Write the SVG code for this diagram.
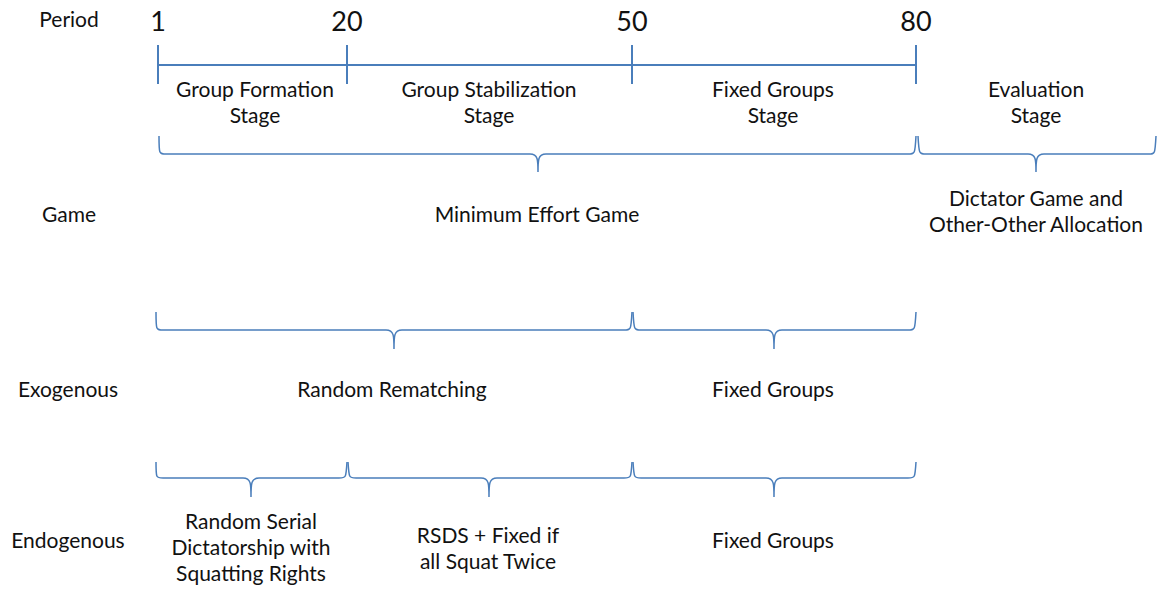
<svg xmlns="http://www.w3.org/2000/svg" width="1157" height="590" viewBox="0 0 1157 590">
<style>
text{font-family:Lato,"Open Sans","Liberation Sans",sans-serif;fill:#111;text-anchor:middle}
.t{font-size:21px}
.n{font-size:27px}
.ax{stroke:#4A7EBB;stroke-width:2;fill:none}
.br{stroke:#4A7EBB;stroke-width:1.5;fill:none}
</style>
<rect width="1157" height="590" fill="#fff"/>
<g id="row-labels">
<text class="t" x="69" y="27">Period</text>
<text class="t" x="69" y="222">Game</text>
<text class="t" x="68" y="397">Exogenous</text>
<text class="t" x="68" y="548">Endogenous</text>
</g>
<g id="timeline">
<path class="ax" d="M158,65 H916 M158,45 V84 M347,45 V84 M632,45 V84 M916,45 V84"/>
<text class="n" x="158" y="31">1</text>
<text class="n" x="347" y="31">20</text>
<text class="n" x="632" y="31">50</text>
<text class="n" x="916" y="31">80</text>
</g>
<g id="stages">
<text class="t" x="255" y="97">Group Formation</text>
<text class="t" x="255" y="123">Stage</text>
<text class="t" x="489" y="97">Group Stabilization</text>
<text class="t" x="489" y="123">Stage</text>
<text class="t" x="773" y="97">Fixed Groups</text>
<text class="t" x="773" y="123">Stage</text>
<text class="t" x="1036" y="97">Evaluation</text>
<text class="t" x="1036" y="123">Stage</text>
</g>
<g id="connectors">
<path class="br" d="M159,136 C159,154 159,154 166,154 H530 C538,154 538,160 538,172 C538,160 538,154 546,154 H908 C915,154 915,154 916,136"/>
<path class="br" d="M918,136 C919,154 919,154 926,154 H1028 C1036,154 1036,160 1036,172 C1036,160 1036,154 1044,154 H1149 C1155,154 1155,154 1156,136"/>
<path class="br" d="M156,312 C156,330 156,330 163,330 H386 C394,330 394,336 394,349 C394,336 394,330 402,330 H624 C631,330 631,330 632,312"/>
<path class="br" d="M633,312 C634,330 634,330 641,330 H766 C774,330 774,336 774,349 C774,336 774,330 782,330 H908 C915,330 915,330 916,312"/>
<path class="br" d="M156,462 C156,478 156,478 163,478 H243 C251,478 251,484 251,497 C251,484 251,478 259,478 H339 C346,478 346,478 347,462"/>
<path class="br" d="M348,462 C349,478 349,478 356,478 H481 C489,478 489,484 489,497 C489,484 489,478 497,478 H624 C631,478 631,478 632,462"/>
<path class="br" d="M633,462 C634,478 634,478 641,478 H766 C774,478 774,484 774,497 C774,484 774,478 782,478 H908 C915,478 915,478 916,462"/>
</g>
<g id="game">
<text class="t" x="537" y="222">Minimum Effort Game</text>
<text class="t" x="1036" y="206">Dictator Game and</text>
<text class="t" x="1036" y="232">Other-Other Allocation</text>
</g>
<g id="exogenous">
<text class="t" x="392" y="397">Random Rematching</text>
<text class="t" x="773" y="397">Fixed Groups</text>
</g>
<g id="endogenous">
<text class="t" x="251" y="529">Random Serial</text>
<text class="t" x="251" y="555">Dictatorship with</text>
<text class="t" x="251" y="581">Squatting Rights</text>
<text class="t" x="488" y="543">RSDS + Fixed if</text>
<text class="t" x="488" y="569">all Squat Twice</text>
<text class="t" x="773" y="548">Fixed Groups</text>
</g>
</svg>
